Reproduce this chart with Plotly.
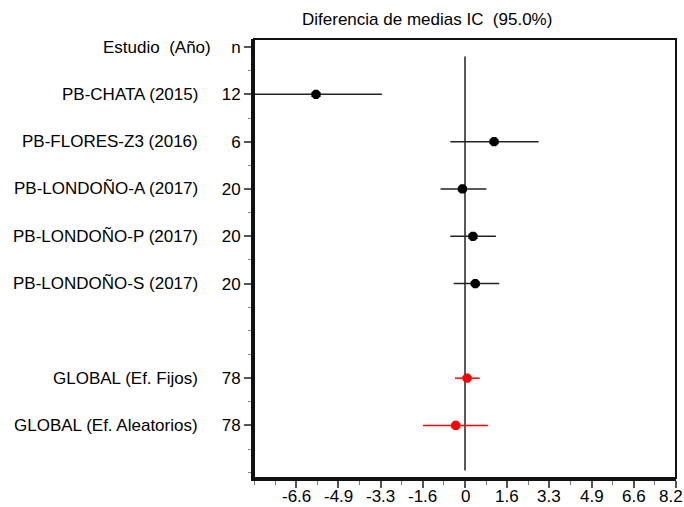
import plotly.graph_objects as go

# ---- data ----
studies = ["PB-CHATA (2015)", "PB-FLORES-Z3 (2016)", "PB-LONDOÑO-A (2017)",
           "PB-LONDOÑO-P (2017)", "PB-LONDOÑO-S (2017)"]
n_studies = ["12", "6", "20", "20", "20"]
mean_studies = [-5.79, 1.13, -0.10, 0.31, 0.40]
lo_studies = [-8.35, -0.57, -0.95, -0.57, -0.44]
hi_studies = [-3.23, 2.86, 0.83, 1.20, 1.33]

globals_ = ["GLOBAL (Ef. Fijos)", "GLOBAL (Ef. Aleatorios)"]
n_globals = ["78", "78"]
mean_globals = [0.08, -0.36]
lo_globals = [-0.39, -1.63]
hi_globals = [0.57, 0.89]

header_name = "Estudio  (Año)"
header_n = "n"
title = "Diferencia de medias IC  (95.0%)"

x_tickvals = [-6.56, -4.92, -3.28, -1.64, 0, 1.64, 3.28, 4.92, 6.56, 8.2]
x_ticktext = ["-6.6", "-4.9", "-3.3", "-1.6", "0", "1.6", "3.3", "4.9", "6.6", "8.2"]

# row positions (index units)
study_rows = [1, 2, 3, 4, 5]
global_rows = [7, 8]

FONT = "Liberation Sans, Arial, sans-serif"
FS = 17

fig = go.Figure()

fig.add_trace(go.Scatter(
    x=mean_studies, y=study_rows, mode="markers",
    marker=dict(color="black", size=10, symbol="octagon"),
    error_x=dict(type="data", symmetric=False,
                 array=[h - m for h, m in zip(hi_studies, mean_studies)],
                 arrayminus=[m - l for m, l in zip(mean_studies, lo_studies)],
                 color="#222", thickness=1.5, width=0),
    showlegend=False, hoverinfo="skip"))

fig.add_trace(go.Scatter(
    x=mean_globals, y=global_rows, mode="markers",
    marker=dict(color="red", size=10, symbol="octagon"),
    error_x=dict(type="data", symmetric=False,
                 array=[h - m for h, m in zip(hi_globals, mean_globals)],
                 arrayminus=[m - l for m, l in zip(mean_globals, lo_globals)],
                 color="red", thickness=1.5, width=0),
    showlegend=False, hoverinfo="skip"))

# vertical null line
fig.add_shape(type="line", xref="x", yref="y", x0=0, x1=0, y0=0.2, y1=8.95,
              line=dict(color="#222", width=1.5), layer="below")

# frame (top/right thinner)
fig.add_shape(type="rect", xref="paper", yref="paper", x0=0, x1=1, y0=0, y1=1,
              line=dict(color="#111", width=2), layer="above")

L, R, T, B = 254, 8, 39, 29
W, H = 684, 507
pw, ph = W - L - R, H - T - B

def py(pix):
    return 1 - (pix - T) / ph

def px(pix):
    return (pix - L) / pw

# left text column
annotations = [dict(text=header_name, x=px(213), xref="paper", y=0, yref="y",
                    showarrow=False, xanchor="right", yanchor="middle",
                    font=dict(family=FONT, size=FS, color="black"))]
for name, r in zip(studies + globals_, study_rows + global_rows):
    annotations.append(dict(text=name, x=px(200), xref="paper", y=r, yref="y",
                            showarrow=False, xanchor="right", yanchor="middle",
                            font=dict(family=FONT, size=FS, color="black")))
annotations.append(dict(text=title, x=px(427), xref="paper", y=py(19), yref="paper",
                        showarrow=False, xanchor="center", yanchor="middle",
                        font=dict(family=FONT, size=FS, color="black")))
# x tick labels (placed by the x scale)
for i, (v, t) in enumerate(zip(x_tickvals, x_ticktext)):
    last = i == len(x_tickvals) - 1
    annotations.append(dict(text=t, x=v, xref="x", y=py(507), yref="paper",
                            showarrow=False,
                            xanchor="right" if last else "center",
                            xshift=8 if last else 0,
                            yanchor="bottom", borderpad=0,
                            font=dict(family=FONT, size=FS, color="black")))

fig.update_layout(
    width=W, height=H,
    margin=dict(l=L, r=R, t=T, b=B, pad=0, autoexpand=False),
    paper_bgcolor="white", plot_bgcolor="white",
    font=dict(family=FONT, size=FS, color="black"),
    annotations=annotations,
    xaxis=dict(range=[-8.2, 8.2], showgrid=False, zeroline=False, automargin=False,
               showline=True, linecolor="#111", linewidth=3,
               tickmode="array", tickvals=x_tickvals, ticktext=x_ticktext,
               showticklabels=False,
               ticks="outside", ticklen=7, tickwidth=1.5, tickcolor="#555",
               minor=dict(tickmode="linear", tick0=0, dtick=0.82,
                          ticks="outside", ticklen=4, tickwidth=1, tickcolor="#777"),
               fixedrange=True),
    yaxis=dict(range=[9.11, -0.17], showgrid=False, zeroline=False, automargin=False,
               showline=True, linecolor="#111", linewidth=3,
               tickmode="array", tickvals=[0] + study_rows + global_rows,
               ticktext=[header_n] + n_studies + n_globals,
               ticks="outside", ticklen=7, tickwidth=1.5, tickcolor="#555",
               minor=dict(tickmode="linear", tick0=0.5, dtick=0.5,
                          ticks="outside", ticklen=3, tickwidth=1, tickcolor="#888"),
               tickfont=dict(family=FONT, size=FS, color="black"),
               fixedrange=True),
)

fig.write_html("out.html")
